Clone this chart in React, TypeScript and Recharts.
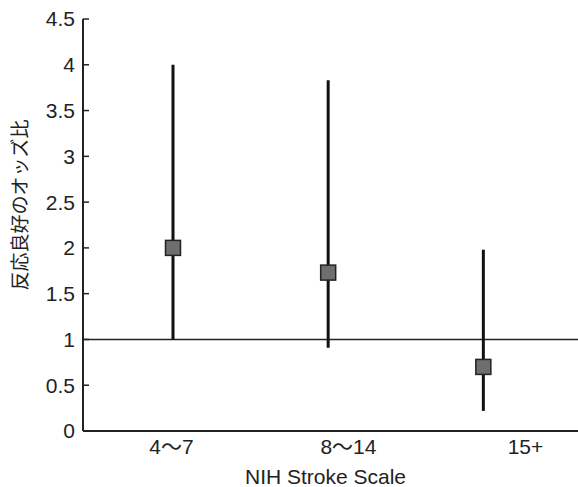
import React from 'react';
import {
  ComposedChart,
  Scatter,
  ErrorBar,
  XAxis,
  YAxis,
  ReferenceLine,
  Label
} from 'recharts';

// 反応良好のオッズ比 by NIH Stroke Scale group
const categories = ['4〜7', '8〜14', '15+'];
const oddsRatio = [2.0, 1.73, 0.7];
const ciLow = [1.0, 0.91, 0.22];
const ciHigh = [4.0, 3.83, 1.98];
const yTicks = [0, 0.5, 1, 1.5, 2, 2.5, 3, 3.5, 4, 4.5];

const FONT = "'Liberation Sans', Arial, 'Noto Sans CJK JP', sans-serif";

const chartData = categories.map((name, i) => ({
  pos: i + 1,
  name,
  value: oddsRatio[i],
  err: [oddsRatio[i] - ciLow[i], ciHigh[i] - oddsRatio[i]]
}));

const SquareMarker = (props: any) => {
  const { cx, cy } = props;
  const s = 15;
  return (
    <rect
      x={cx - s / 2}
      y={cy - s / 2}
      width={s}
      height={s}
      fill="#6e6e6e"
      stroke="#222"
      strokeWidth={1.5}
    />
  );
};

const App: React.FC = () => {
  return (
    <div style={{ position: 'absolute', left: 0, top: 0, background: '#fff' }}>
      <ComposedChart
        width={578}
        height={487}
        data={chartData}
        margin={{ top: 19, right: 0, left: 0, bottom: 0 }}
      >
        {/* data axis (hidden) – the printed labels sit a bit off the bars */}
        <XAxis
          xAxisId="data"
          dataKey="pos"
          type="number"
          domain={[0.42, 3.61]}
          allowDataOverflow
          height={0}
          hide
        />
        <XAxis
          xAxisId="labels"
          dataKey="pos"
          type="number"
          domain={[0.5, 3.297]}
          allowDataOverflow
          ticks={[1, 2, 3]}
          interval={0}
          tickFormatter={(v: number) => categories[v - 1]}
          height={56}
          tickSize={0}
          tickMargin={8}
          axisLine={{ stroke: '#222', strokeWidth: 2 }}
          tick={{ fill: '#222', fontSize: 21, fontFamily: FONT }}
        >
          <Label
            value="NIH Stroke Scale"
            position="insideBottom"
            offset={3}
            dx={-5}
            style={{ fill: '#222', fontSize: 21, fontFamily: FONT }}
          />
        </XAxis>
        <YAxis
          type="number"
          domain={[0, 4.5]}
          ticks={yTicks}
          width={83}
          tickSize={-6}
          tickMargin={14}
          interval={0}
          axisLine={{ stroke: '#222', strokeWidth: 2 }}
          tickLine={{ stroke: '#222', strokeWidth: 1.5 }}
          tick={{ fill: '#222', fontSize: 21, fontFamily: FONT }}
        >
          <Label
            value="反応良好のオッズ比"
            angle={-90}
            position="insideLeft"
            offset={20}
            dy={-20}
            style={{ fill: '#222', fontSize: 19, fontFamily: FONT, textAnchor: 'middle' }}
          />
        </YAxis>
        <ReferenceLine xAxisId="data" y={1} stroke="#222" strokeWidth={1.5} />
        <Scatter
          xAxisId="data"
          dataKey="value"
          shape={SquareMarker}
          isAnimationActive={false}
        >
          <ErrorBar
            dataKey="err"
            direction="y"
            width={0}
            stroke="#111"
            strokeWidth={3}
          />
        </Scatter>
      </ComposedChart>
    </div>
  );
};

export default App;
